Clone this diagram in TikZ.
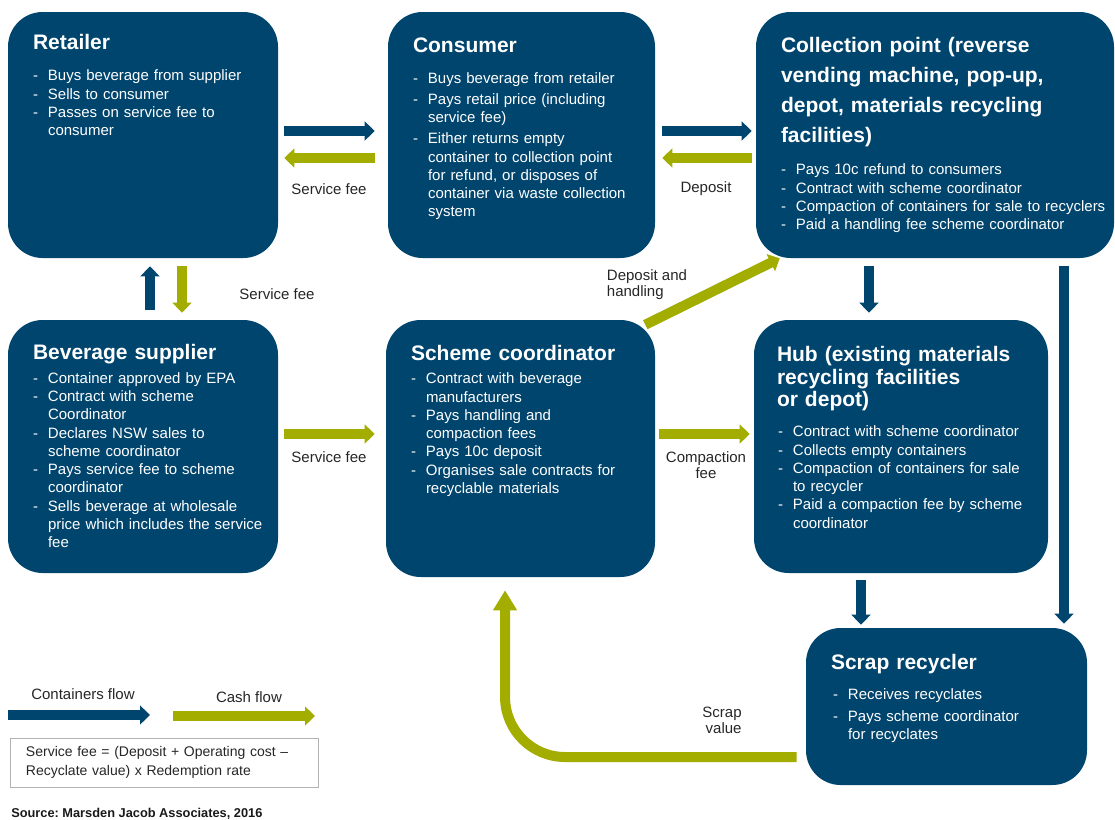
\documentclass[tikz,border=0pt]{standalone}
\usepackage{fontspec}
\setmainfont{Liberation Sans}
\usetikzlibrary{arrows.meta, calc}
\definecolor{flowblue}{RGB}{0,69,110}
\definecolor{cashgreen}{RGB}{163,173,0}
\frenchspacing
\newlength{\bulind}
\setlength{\bulind}{11.25pt}
\newcommand{\bul}{\hangindent=\bulind\hangafter=1\noindent\hbox to\bulind{-\hfil}}

\begin{document}
\begin{tikzpicture}[
    x=0.75pt, y=-0.75pt,
    box/.style = {rectangle, rounded corners=26pt, fill=flowblue, inner sep=0pt},
    head/.style = {text=white, font=\bfseries\fontsize{15.75}{16.9}\selectfont, inner sep=0pt, anchor=base west, align=left, text width=250pt},
    body/.style = {text=white, font=\fontsize{11.25}{13.7}\selectfont, inner sep=0pt, anchor=base west, align=left, text width=250pt},
    lbl/.style = {text=black!85, font=\fontsize{11.25}{12}\selectfont, inner sep=0pt, align=center},
    flow/.style = {flowblue, line width=7.5pt, -{Triangle[length=7.5pt, width=14pt]}},
    cash/.style = {cashgreen, line width=7.5pt, -{Triangle[length=7.5pt, width=14pt]}},
    ]
  \useasboundingbox (0,0) rectangle (1115,819);

  % boxes
  \node[box, minimum width=202.5pt, minimum height=184.5pt] (retailer) at (143,135) {};
  \node[box, minimum width=200.25pt, minimum height=184.5pt] (consumer) at (521.5,135) {};
  \node[box, minimum width=268.5pt, minimum height=184.5pt] (collection) at (935,135) {};
  \node[box, minimum width=202.5pt, minimum height=189.75pt] (supplier) at (143,446.5) {};
  \node[box, minimum width=201.75pt, minimum height=192.75pt] (coordinator) at (520.5,448.5) {};
  \node[box, minimum width=220.5pt, minimum height=189.75pt] (hub) at (901,446.5) {};
  \node[box, minimum width=210.75pt, minimum height=117.75pt] (recycler) at (946.5,706.5) {};

  % box texts
  \node[head] (retailerhead) at ($(retailer.north west)+(25,38)$) {Retailer};
  \node[body] (retailertxt) at ($(retailer.north west)+(25,69)$) {%
    \bul Buys beverage from supplier\par
    \bul Sells to consumer\par
    \bul Passes on service fee to\newline consumer\par};

  \node[head] (consumerhead) at ($(consumer.north west)+(25,41)$) {Consumer};
  \node[body] (consumertxt) at ($(consumer.north west)+(25,72)$) {\setlength{\parskip}{2pt}%
    \bul Buys beverage from retailer\par
    \bul Pays retail price (including\newline service fee)\par
    \bul Either returns empty\newline container to collection point\newline for refund, or disposes of\newline container via waste collection\newline system\par};

  \node[head, font=\bfseries\fontsize{15.75}{22.5}\selectfont] (collectionhead) at ($(collection.north west)+(25,41)$)
    {Collection point (reverse\\vending machine, pop-up,\\depot, materials recycling\\facilities)};
  \node[body] (collectiontxt) at ($(collection.north west)+(25,163)$) {%
    \bul Pays 10c refund to consumers\par
    \bul Contract with scheme coordinator\par
    \bul Compaction of containers for sale to recyclers\par
    \bul Paid a handling fee scheme coordinator\par};

  \node[head] (supplierhead) at ($(supplier.north west)+(25,40)$) {Beverage supplier};
  \node[body] (suppliertxt) at ($(supplier.north west)+(25,63.5)$) {%
    \bul Container approved by EPA\par
    \bul Contract with scheme\newline Coordinator\par
    \bul Declares NSW sales to\newline scheme coordinator\par
    \bul Pays service fee to scheme\newline coordinator\par
    \bul Sells beverage at wholesale\newline price which includes the service\newline fee\par};

  \node[head] (coordinatorhead) at ($(coordinator.north west)+(25,41)$) {Scheme coordinator};
  \node[body] (coordinatortxt) at ($(coordinator.north west)+(25,64)$) {%
    \bul Contract with beverage\newline manufacturers\par
    \bul Pays handling and\newline compaction fees\par
    \bul Pays 10c deposit\par
    \bul Organises sale contracts for\newline recyclable materials\par};

  \node[head] (hubhead) at ($(hub.north west)+(23,42)$) {Hub (existing materials\\recycling facilities\\or depot)};
  \node[body] (hubtxt) at ($(hub.north west)+(24,117)$) {%
    \bul Contract with scheme coordinator\par
    \bul Collects empty containers\par
    \bul Compaction of containers for sale\newline to recycler\par
    \bul Paid a compaction fee by scheme\newline coordinator\par};

  \node[head] (recyclerhead) at ($(recycler.north west)+(25,41.5)$) {Scrap recycler};
  \node[body] (recyclertxt) at ($(recycler.north west)+(27,71.5)$) {\setlength{\parskip}{3pt}%
    \bul Receives recyclates\par
    \bul Pays scheme coordinator\newline for recyclates\par};

  % flows between boxes
  \draw[flow, shorten <=4.5pt, shorten >=9.75pt] (retailer.east |- 0,131) -- (consumer.west |- 0,131);
  \draw[cash, shorten <=9.75pt, shorten >=4.5pt] (consumer.west |- 0,158) -- (retailer.east |- 0,158);
  \draw[flow, shorten <=5.25pt, shorten >=3pt] (consumer.east |- 0,131) -- (collection.west |- 0,131);
  \draw[cash, shorten <=3pt, shorten >=5.25pt] (collection.west |- 0,158) -- (consumer.east |- 0,158);
  \draw[flow, shorten <=7.5pt, shorten >=6pt] (supplier.north -| 150,0) -- (retailer.south -| 150,0);
  \draw[cash, shorten <=6pt, shorten >=5.25pt] (retailer.south -| 182,0) -- (supplier.north -| 182,0);
  \draw[cash, shorten <=4.5pt, shorten >=8.25pt] (supplier.east |- 0,434) -- (coordinator.west |- 0,434);
  \draw[cash, shorten <=3pt, shorten >=3pt] (coordinator.east |- 0,434) -- (hub.west |- 0,434);
  \draw[cash] ($(coordinator.north east)+(-10,5)$) -- ($(collection.south west)+(24,0)$);
  \draw[flow, shorten <=6pt, shorten >=5.25pt] (collection.south -| 869,0) -- (hub.north -| 869,0);
  \draw[flow, shorten <=6pt, shorten >=3pt] (collection.south -| 1064,0) -- (recycler.north -| 1064,0);
  \draw[flow, shorten <=5.25pt, shorten >=2.25pt] (hub.south -| 861,0) -- (recycler.north -| 861,0);
  \draw[cash, -{Triangle[length=15pt, width=17pt]}, rounded corners=45pt, shorten <=6.75pt, shorten >=9.75pt]
    (recycler.west |- 0,757) -| ([xshift=-11.6pt]coordinator.south);

  % flow labels
  \node[lbl] (fee1) at (329,189) {Service fee};
  \node[lbl] (deposit) at (706,189) {Deposit};
  \node[lbl] (fee2) at (277,294) {Service fee};
  \node[lbl] (fee3) at (329,457) {Service fee};
  \node[lbl, align=left] (handling) at (647,285) {Deposit and\\handling};
  \node[lbl] (compaction) at (706,465) {Compaction\\fee};
  \node[lbl, align=right] (scrap) at (722,720) {Scrap\\value};

  % legend
  \node[lbl] (containerskey) at (83,694) {Containers flow};
  \node[lbl] (cashkey) at (249,697) {Cash flow};
  \coordinate (contfrom) at (8,715);
  \coordinate (contto) at (150,715);
  \coordinate (cashfrom) at (173,716);
  \coordinate (cashto) at (315,716);
  \draw[flow] (contfrom) -- (contto);
  \draw[cash] (cashfrom) -- (cashto);
  \node[draw=black!30, line width=0.75pt, minimum width=231pt, minimum height=36.75pt, text width=207pt,
    inner xsep=12pt, align=left, text=black!85, font=\fontsize{10.5}{14.25}\selectfont] (formula) at (164,762.5)
    {Service fee = (Deposit + Operating cost –\\Recyclate value) x Redemption rate};
  \node[anchor=base west, inner sep=0pt, text=black!90, font=\bfseries\fontsize{9.6}{11}\selectfont] (source) at (11,817)
    {Source: Marsden Jacob Associates, 2016};
\end{tikzpicture}
\end{document}
